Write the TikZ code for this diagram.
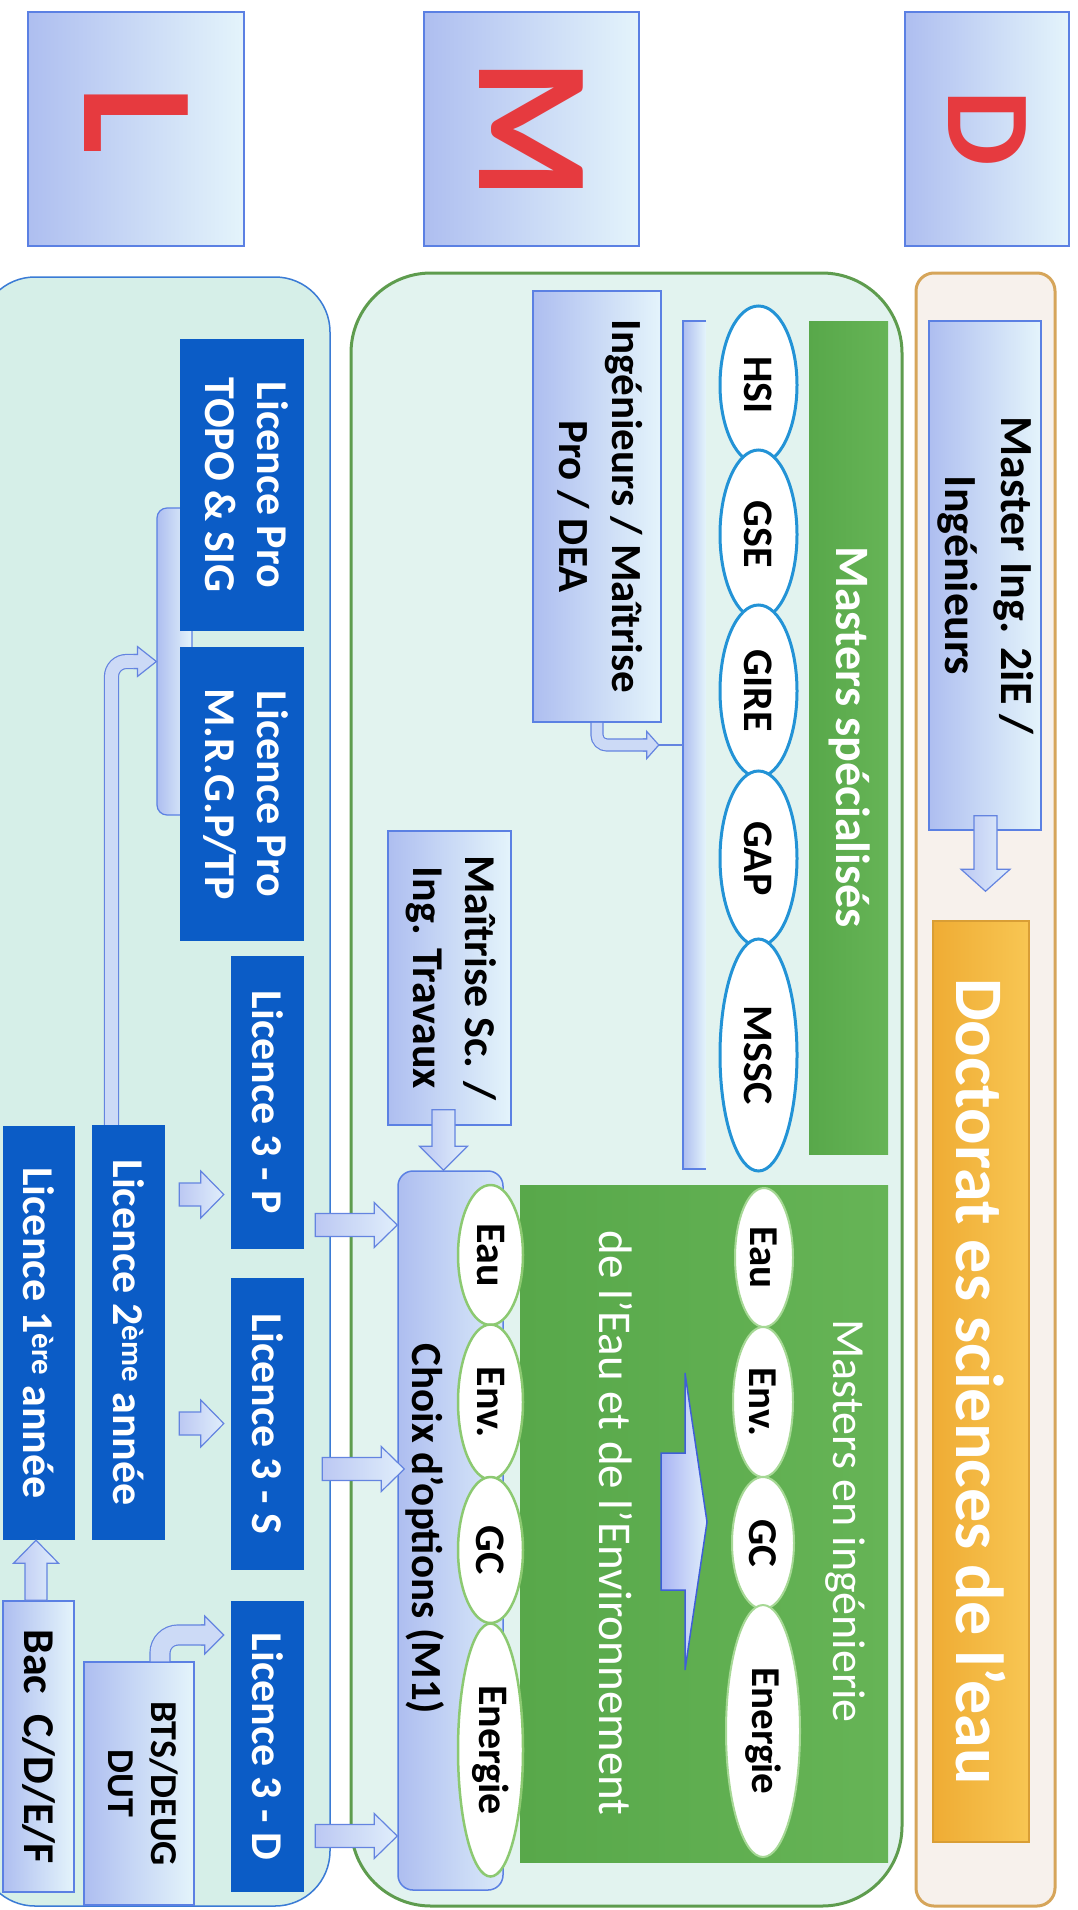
\documentclass[tikz,border=0pt]{standalone}
\usepackage{fontspec}
\setmainfont{Carlito}
\usepackage{graphicx}
\usetikzlibrary{shapes.geometric,calc}
\definecolor{letterred}{HTML}{E63A3F}
\definecolor{lboxL}{HTML}{AEBEF0}
\definecolor{lboxR}{HTML}{E4F4FB}
\definecolor{lboxborder}{HTML}{5B80E3}
\definecolor{darkblue}{HTML}{0B5CC6}
\definecolor{lpanelfill}{HTML}{D6EFE8}
\definecolor{lpanelborder}{HTML}{3A7BD5}
\definecolor{mpanelfill}{HTML}{E2F3EF}
\definecolor{mpanelborder}{HTML}{5E9C4E}
\definecolor{dpanelfill}{HTML}{F7F1EC}
\definecolor{dpanelborder}{HTML}{D6A55A}
\definecolor{green1}{HTML}{58A84A}
\definecolor{green2}{HTML}{66B456}
\definecolor{ellblue}{HTML}{2393D6}
\definecolor{ellgreen}{HTML}{8CC971}
\definecolor{ellgreenlight}{HTML}{A6D895}
\definecolor{arrL}{HTML}{BCC8F3}
\definecolor{arrR}{HTML}{E0EEFB}
\definecolor{arrfill}{HTML}{CCDAF6}
\definecolor{arrborder}{HTML}{6484E0}
\definecolor{goldL}{HTML}{EFAC34}
\definecolor{goldR}{HTML}{F8C653}
\definecolor{goldborder}{HTML}{D99E35}
\definecolor{bigarrborder}{HTML}{3F5FD8}
\newcommand{\vt}[1]{\rotatebox[origin=c]{-90}{\begin{tabular}{@{}c@{}}#1\end{tabular}}}
\newcommand{\vs}[1]{\rotatebox[origin=c]{-90}{#1}}
\newcommand{\blockarrow}[6][]{%
  \coordinate (bkarr) at ($(#3)!#6!(#2)$);
  \path[#1] ($(#2)!#4!90:(#3)$) -- ($(bkarr)!#4!-90:(#2)$) -- ($(bkarr)!#5!-90:(#2)$) -- (#3) -- ($(bkarr)!#5!90:(#2)$) -- ($(bkarr)!#4!90:(#2)$) -- ($(#2)!#4!-90:(#3)$) -- cycle;}
\newcommand{\headarrow}[6][]{%
  \coordinate (bkarr) at ($(#3)!#6!(#2)$);
  \path[#1,draw=none] ($(#2)!#4!90:(#3)$) -- ($(bkarr)!#4!-90:(#2)$) -- ($(bkarr)!#5!-90:(#2)$) -- (#3) -- ($(bkarr)!#5!90:(#2)$) -- ($(bkarr)!#4!90:(#2)$) -- ($(#2)!#4!-90:(#3)$) -- cycle;
  \path[#1,fill=none] ($(#2)!#4!90:(#3)$) -- ($(bkarr)!#4!-90:(#2)$) -- ($(bkarr)!#5!-90:(#2)$) -- (#3) -- ($(bkarr)!#5!90:(#2)$) -- ($(bkarr)!#4!90:(#2)$) -- ($(#2)!#4!-90:(#3)$);}
\begin{document}
\begin{tikzpicture}[x=1pt,y=-1pt,
  lbox/.style={draw=lboxborder, line width=1.5pt, left color=lboxL, right color=lboxR, inner sep=0pt, text=black, font=\fontsize{44}{52}\selectfont\bfseries},
  dbox/.style={fill=darkblue, draw=none, inner sep=0pt, text=white, font=\fontsize{44}{52}\selectfont\bfseries},
  panel/.style={inner sep=0pt},
  ellb/.style={ellipse, draw=ellblue, line width=3pt, fill=white, inner sep=0pt, font=\fontsize{42}{50}\selectfont\bfseries},
  ellg/.style={ellipse, draw=ellgreen, line width=2.5pt, fill=white, inner sep=0pt, font=\fontsize{42}{50}\selectfont\bfseries},
  ellw/.style={ellipse, draw=ellgreenlight, line width=2pt, fill=white, inner sep=0pt, font=\fontsize{41}{50}\selectfont\bfseries},
  barrow/.style={draw=arrborder, line width=1.2pt, left color=arrL, right color=arrR},
  carrow/.style={draw=arrborder, line width=1.2pt, fill=arrfill},
  greenblk/.style={left color=green1, right color=green2, draw=none, inner sep=0pt},
  wtext/.style={text=white, inner sep=0pt},
  lettr/.style={text=letterred, font=\fontsize{160}{160}\selectfont\bfseries}
]
\useasboundingbox (0,0) rectangle (1077,1910);
\fill[white] (0,0) rectangle (1077,1910);

% ---------- letter boxes
\node[lbox, lettr, minimum width=216pt, minimum height=234pt] (Lbox) at (136,129) {\vs{L}};
\node[lbox, lettr, minimum width=215pt, minimum height=234pt] (Mbox) at (531.5,129) {\vs{M}};
\node[lbox, lettr, font=\fontsize{120}{120}\selectfont\bfseries, minimum width=164pt, minimum height=234pt] (Dbox) at (987,129) {\vs{D}};

% ---------- panels
\node[panel, draw=lpanelborder, line width=1.5pt, fill=lpanelfill, rounded corners=55pt, minimum width=350pt, minimum height=1629pt] (lpanel) at (155,1091.5) {};
\node[panel, draw=mpanelborder, line width=3pt, fill=mpanelfill, rounded corners=80pt, minimum width=551pt, minimum height=1633pt] (mpanel) at (626.5,1089.5) {};
\node[panel, draw=dpanelborder, line width=3pt, fill=dpanelfill, rounded corners=18pt, minimum width=139pt, minimum height=1633pt] (dpanel) at (985.5,1089.5) {};

% ---------- L panel
\node[draw=lboxborder, line width=1.2pt, left color=lboxL, right color=lboxR, rounded corners=10pt, inner sep=0pt, minimum width=35pt, minimum height=307pt] (lbracket) at (174.5,661.5) {};
\node[dbox, minimum width=124pt, minimum height=292pt] (topo) at (242,485) {\vt{Licence Pro\\TOPO \& SIG}};
\node[dbox, minimum width=124pt, minimum height=294pt] (mrgp) at (242,794) {\vt{Licence Pro\\M.R.G.P/TP}};
\node[dbox, minimum width=73pt, minimum height=293pt] (l3p) at (267.5,1102.5) {\vs{Licence 3 - P}};
\node[dbox, minimum width=73pt, minimum height=292pt] (l3s) at (267.5,1424) {\vs{Licence 3 - S}};
\node[dbox, minimum width=73pt, minimum height=291pt] (l3d) at (267.5,1746.5) {\vs{Licence 3 - D}};
\node[dbox, minimum width=73pt, minimum height=415pt] (l2) at (128.5,1332.5) {\vs{Licence 2\textsuperscript{ème} année}};
\node[dbox, minimum width=72pt, minimum height=414pt] (l1) at (39,1333) {\vs{Licence 1\textsuperscript{ère} année}};
\node[lbox, minimum width=71pt, minimum height=291pt] (bac) at (38.5,1746.5) {\vs{Bac\ \ C/D/E/F}};
\node[lbox, font=\fontsize{38}{43}\selectfont\bfseries, minimum width=110pt, minimum height=243pt] (bts) at (139,1783.5) {\vt{BTS/DEUG\\DUT}};

% ---------- M panel
\node[lbox, minimum width=123pt, minimum height=294pt] (maitrise) at (449.5,978) {\vt{Maîtrise Sc. /\\Ing. Travaux}};
\node[draw=lboxborder, line width=1.5pt, left color=lboxL, right color=lboxR!80!lboxL, rounded corners=15pt, inner sep=0pt, minimum width=105pt, minimum height=719pt] (choix) at (450.5,1530.5) {};
\node[lbox, font=\fontsize{43}{53}\selectfont\bfseries, minimum width=128pt, minimum height=431pt] (ing) at (597,506.5) {\vt{Ingénieurs / Maîtrise\\Pro / DEA}};
\node[left color=lboxL, right color=lboxR, inner sep=0pt, minimum width=23pt, minimum height=848pt] (mbracket) at (694.5,745) {};
\draw[lboxborder, line width=1.5pt] (mbracket.north east) -- (mbracket.north west) -- (mbracket.south west) -- (mbracket.south east);
\node[greenblk, minimum width=79pt, minimum height=833pt] (specbar) at (848.5,737.5) {};
\node[wtext, font=\fontsize{48}{56}\selectfont\bfseries] (spectxt) at (850,737) {\vs{Masters spécialisés}};
\node[ellb, minimum width=77pt, minimum height=158pt] (hsi) at (758.5,385) {\vs{HSI}};
\node[ellb, minimum width=77pt, minimum height=169pt] (gse) at (758.5,534.5) {\vs{GSE}};
\node[ellb, minimum width=77pt, minimum height=172pt] (gire) at (758.5,691) {\vs{GIRE}};
\node[ellb, minimum width=77pt, minimum height=175pt] (gap) at (758.5,858.5) {\vs{GAP}};
\node[ellb, minimum width=77pt, minimum height=232pt] (mssc) at (758.5,1055) {\vs{MSSC}};

\node[greenblk, minimum width=368pt, minimum height=677pt] (ingblock) at (704,1523.5) {};
\node[wtext, font=\fontsize{46}{54}\selectfont] (mitxt) at (845,1521) {\vs{Masters en ingénierie}};
\node[wtext, font=\fontsize{47}{54}\selectfont] (eetxt) at (616,1523) {\vs{de l’Eau et de l’Environnement}};
\draw[bigarrborder, line width=1.5pt, left color=arrL!90!blue, right color=arrR] (661,1453) -- (685,1453) -- (685,1373) -- (707,1522) -- (685,1670) -- (685,1590) -- (661,1590) -- cycle;
\node[ellw, minimum width=58pt, minimum height=139pt] (eau2) at (764,1257.5) {\vs{Eau}};
\node[ellw, minimum width=60pt, minimum height=150pt] (env2) at (763,1402) {\vs{Env.}};
\node[ellw, minimum width=62pt, minimum height=132pt] (gc2) at (763,1543) {\vs{GC}};
\node[ellw, minimum width=74pt, minimum height=252pt] (ener2) at (763,1731) {\vs{Energie}};

\node[inner sep=0pt, font=\fontsize{43}{52}\selectfont\bfseries] (choixtxt) at (425,1529) {\vs{Choix d’options (M1)}};
\node[ellg, minimum width=65pt, minimum height=140pt] (eau1) at (490.5,1255) {\vs{Eau}};
\node[ellg, minimum width=65pt, minimum height=155pt] (env1) at (490.5,1402) {\vs{Env.}};
\node[ellg, minimum width=65pt, minimum height=146pt] (gc1) at (490.5,1550) {\vs{GC}};
\node[ellg, minimum width=65pt, minimum height=253pt] (ener1) at (490.5,1750) {\vs{Energie}};

% ---------- D panel
\node[lbox, font=\fontsize{46}{56}\selectfont\bfseries, minimum width=108pt, minimum height=509pt] (master) at (985,575.5) {\vt{Master Ing. 2iE /\\Ingénieurs}};
\node[draw=goldborder, line width=1.5pt, left color=goldL, right color=goldR, inner sep=0pt, text=white, font=\fontsize{68}{74}\selectfont\bfseries, minimum width=96pt, minimum height=921pt] (doct) at (981,1381.5) {\vs{Doctorat es sciences de l’eau}};

% ---------- straight block arrows
\coordinate (a1t) at ($(l2.east)+(14,-138)$);
\coordinate (a1h) at ($(l3p.west)+(-7,92)$);
\blockarrow[barrow]{a1t}{a1h}{11.5pt}{23.5pt}{23pt}
\coordinate (a2t) at ($(l2.east)+(14,91)$);
\coordinate (a2h) at ($(l3s.west)+(-7,-0.5)$);
\blockarrow[barrow]{a2t}{a2h}{11.5pt}{23.5pt}{23pt}
\coordinate (a3t) at ($(l3p.east)+(11,122.5)$);
\coordinate (a3h) at ($(choix.west)+(0,-305.5)$);
\blockarrow[barrow]{a3t}{a3h}{11.5pt}{22.5pt}{23pt}
\coordinate (a4t) at ($(l3s.east)+(18,45)$);
\coordinate (a4h) at ($(choix.west)+(7,-61.5)$);
\blockarrow[barrow]{a4t}{a4h}{11.5pt}{22.5pt}{23pt}
\coordinate (a5t) at ($(l3d.east)+(11,89.5)$);
\coordinate (a5h) at ($(choix.west)+(0,305.5)$);
\blockarrow[barrow]{a5t}{a5h}{11.5pt}{22.5pt}{23pt}
\coordinate (a6t) at ($(bac.north)+(-2.5,0)$);
\coordinate (a6h) at (a6t |- l1.south);
\blockarrow[barrow]{a6t}{a6h}{11pt}{22.5pt}{23pt}
\coordinate (a7t) at ($(maitrise.south)+(-6,-16)$);
\coordinate (a7h) at (a7t |- choix.north);
\blockarrow[barrow]{a7t}{a7h}{11.5pt}{24pt}{24pt}
\coordinate (a8t) at ($(master.south)+(0.5,-15)$);
\coordinate (a8h) at ($(doct.north)+(4.5,-29)$);
\blockarrow[barrow]{a8t}{a8h}{11.5pt}{24.5pt}{22pt}

% ---------- bent arrows
% Licence 2 -> Licences Pro
\coordinate (u1s) at ($(l2.north)+(-17,0)$);
\coordinate (u1c) at ($(lbracket.west)+(-19,0)$);
\coordinate (u1b) at ($(lbracket.west)+(-23,0)$);
\draw[arrborder, line width=15.2pt, rounded corners=15pt] (u1s) -- (u1s |- lbracket.west) -- (u1c);
\draw[arrfill, line width=12.8pt, rounded corners=15pt] (u1s) -- (u1s |- lbracket.west) -- (u1c);
\headarrow[carrow]{u1b}{lbracket.west}{7pt}{15pt}{19pt}
% BTS -> Licence 3 - D
\coordinate (u2s) at ($(bts.north)+(21,0)$);
\coordinate (u2h) at ($(l3d.west)+(-7,-111.5)$);
\coordinate (u2c) at ($(u2h)+(-19,0)$);
\coordinate (u2b) at ($(u2h)+(-23,0)$);
\draw[arrborder, line width=21.2pt, rounded corners=18pt] (u2s) -- (u2s |- u2h) -- (u2c);
\draw[arrfill, line width=18.8pt, rounded corners=18pt] (u2s) -- (u2s |- u2h) -- (u2c);
\headarrow[carrow]{u2b}{u2h}{10pt}{19pt}{19pt}
% Ingenieurs -> Masters specialises
\coordinate (u3s) at (ing.south);
\coordinate (u3h) at ($(mbracket.west)+(-24,0)$);
\coordinate (u3c) at ($(u3h)+(-12,0)$);
\coordinate (u3b) at ($(u3h)+(-16,0)$);
\draw[arrborder, line width=13.2pt, rounded corners=10pt] (u3s) -- (u3s |- u3h) -- (u3c);
\draw[arrfill, line width=10.8pt, rounded corners=10pt] (u3s) -- (u3s |- u3h) -- (u3c);
\headarrow[carrow]{u3b}{u3h}{6pt}{13.5pt}{12pt}
\draw[arrborder, line width=1.2pt] (u3h) -- (mbracket.west);
\end{tikzpicture}
\end{document}
